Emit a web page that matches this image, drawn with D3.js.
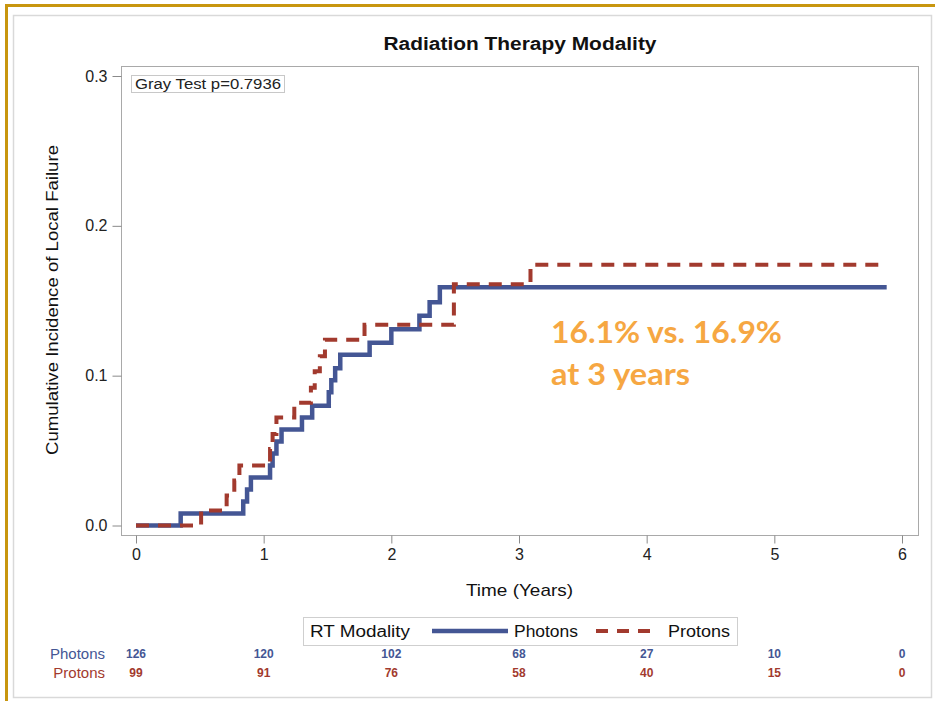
<!DOCTYPE html>
<html>
<head>
<meta charset="utf-8">
<script src="https://cdn.jsdelivr.net/npm/d3@7"></script>
<style>
  html, body { margin: 0; padding: 0; background: #fff; }
  svg { display: block; }
</style>
</head>
<body>
<svg id="chart" width="935" height="701"></svg>
<script>
// Cumulative incidence of local failure by RT modality (step functions)
const photonTimes  = [0, 0.35, 0.84, 0.87, 0.90, 1.05, 1.07, 1.10, 1.14, 1.30, 1.38, 1.51, 1.53, 1.56, 1.60, 1.83, 2.00, 2.22, 2.30, 2.38, 5.88];
const photonValues = [0, 0.008, 0.016, 0.024, 0.032, 0.040, 0.048, 0.056, 0.064, 0.072, 0.080, 0.089, 0.097, 0.105, 0.114, 0.122, 0.131, 0.140, 0.149, 0.159, 0.159];

const protonTimes  = [0, 0.51, 0.71, 0.77, 0.81, 1.05, 1.07, 1.10, 1.24, 1.37, 1.40, 1.44, 1.48, 1.79, 2.49, 3.09, 5.88];
const protonValues = [0, 0.010, 0.020, 0.030, 0.040, 0.051, 0.061, 0.072, 0.082, 0.092, 0.103, 0.113, 0.124, 0.134, 0.161, 0.174, 0.174];

// Axis ticks
const xTicks = [0, 1, 2, 3, 4, 5, 6];
const yTicks = [0, 0.1, 0.2, 0.3];

// Number at risk at each yearly tick
const atRiskPhotons = [126, 120, 102, 68, 27, 10, 0];
const atRiskProtons = [99, 91, 76, 58, 40, 15, 0];

const seriesNames = ["Photons", "Protons"];
const colors = { Photons: "#445694", Protons: "#a23a2e" };

const svg = d3.select("#chart");

// Outer decoration: gold rule on top/left and a light panel border
svg.append("rect").attr("x", 13.5).attr("y", 15.5).attr("width", 918).attr("height", 682)
  .attr("fill", "#fff").attr("stroke", "#d9d9d9").attr("stroke-width", 1.5);
svg.append("line").attr("x1", 6).attr("x2", 935).attr("y1", 5.5).attr("y2", 5.5)
  .attr("stroke", "#c8960f").attr("stroke-width", 3);
svg.append("line").attr("x1", 6.5).attr("x2", 6.5).attr("y1", 4).attr("y2", 701)
  .attr("stroke", "#c8960f").attr("stroke-width", 3);

const x = d3.scaleLinear().domain([0, 6]).range([136, 902]);
const y = d3.scaleLinear().domain([0, 0.3]).range([525.5, 76]);

const frame = { x0: 121, x1: 918, y0: 66, y1: 535 };

// Plot frame
svg.append("rect")
  .attr("x", frame.x0 + 0.5).attr("y", frame.y0 + 0.5)
  .attr("width", frame.x1 - frame.x0).attr("height", frame.y1 - frame.y0)
  .attr("fill", "#fff").attr("stroke", "#a9a9a9").attr("stroke-width", 1);

// Axes
const xAxis = d3.axisBottom(x).tickValues(xTicks).tickFormat(d3.format("d")).tickSize(8).tickPadding(5);
const yAxis = d3.axisLeft(y).tickValues(yTicks).tickFormat(d3.format(".1f")).tickSize(9).tickPadding(5);

const gx = svg.append("g").attr("transform", `translate(0,${frame.y1 + 0.5})`).call(xAxis);
const gy = svg.append("g").attr("transform", `translate(${frame.x0 + 0.5},0)`).call(yAxis);
[gx, gy].forEach(g => {
  g.select(".domain").remove();
  g.selectAll(".tick line").attr("stroke", "#8a8a8a");
  g.selectAll(".tick text").attr("fill", "#222").attr("font-family", "Liberation Sans, Arial, sans-serif").attr("font-size", 16);
});

// Step curves
const line = d3.line()
  .x(d => x(d[0]))
  .y(d => y(d[1]))
  .curve(d3.curveStepAfter);

svg.append("path")
  .datum(d3.zip(photonTimes, photonValues))
  .attr("d", line)
  .attr("fill", "none")
  .attr("stroke", colors.Photons)
  .attr("stroke-width", 4.5);

svg.append("path")
  .datum(d3.zip(protonTimes, protonValues))
  .attr("d", line)
  .attr("fill", "none")
  .attr("stroke", colors.Protons)
  .attr("stroke-width", 4)
  .attr("stroke-dasharray", "13,9");

// Title and axis labels
const sans = "Liberation Sans, Arial, sans-serif";
svg.append("text").attr("x", 520).attr("y", 50).attr("text-anchor", "middle")
  .attr("font-family", sans).attr("font-weight", "bold").attr("font-size", 18)
  .attr("textLength", 273).attr("lengthAdjust", "spacingAndGlyphs")
  .attr("fill", "#111").text("Radiation Therapy Modality");

svg.append("text").attr("x", 519.5).attr("y", 596).attr("text-anchor", "middle")
  .attr("font-family", sans).attr("font-size", 17)
  .attr("textLength", 107).attr("lengthAdjust", "spacingAndGlyphs")
  .attr("fill", "#111").text("Time (Years)");

svg.append("text")
  .attr("transform", "translate(58,300) rotate(-90)")
  .attr("text-anchor", "middle")
  .attr("font-family", sans).attr("font-size", 16)
  .attr("textLength", 310).attr("lengthAdjust", "spacingAndGlyphs")
  .attr("fill", "#111").text("Cumulative Incidence of Local Failure");

// Test statistic inset
svg.append("rect").attr("x", 131.5).attr("y", 75.5).attr("width", 153).attr("height", 17)
  .attr("fill", "#fff").attr("stroke", "#c8c8c8");
svg.append("text").attr("x", 135).attr("y", 89)
  .attr("font-family", sans).attr("font-size", 14)
  .attr("textLength", 146).attr("lengthAdjust", "spacingAndGlyphs")
  .attr("fill", "#222").text("Gray Test p=0.7936");

// Annotation
const note = svg.append("g").attr("font-family", "Lato, 'Open Sans', sans-serif")
  .attr("font-weight", "bold").attr("font-size", 30).attr("fill", "#f6a742");
note.append("text").attr("x", 551).attr("y", 343)
  .attr("textLength", 231).attr("lengthAdjust", "spacingAndGlyphs").text("16.1% vs. 16.9%");
note.append("text").attr("x", 551).attr("y", 385)
  .attr("textLength", 139).attr("lengthAdjust", "spacingAndGlyphs").text("at 3 years");

// Legend
const lg = svg.append("g");
lg.append("rect").attr("x", 303.5).attr("y", 617.5).attr("width", 434).attr("height", 28)
  .attr("fill", "#fff").attr("stroke", "#cfcfcf");
lg.append("text").attr("x", 310).attr("y", 637).attr("font-family", sans).attr("font-size", 16)
  .attr("textLength", 100).attr("lengthAdjust", "spacingAndGlyphs").attr("fill", "#111").text("RT Modality");
lg.append("line").attr("x1", 432).attr("x2", 508).attr("y1", 631).attr("y2", 631)
  .attr("stroke", colors.Photons).attr("stroke-width", 4.5);
lg.append("text").attr("x", 514).attr("y", 637).attr("font-family", sans).attr("font-size", 16)
  .attr("textLength", 64).attr("lengthAdjust", "spacingAndGlyphs").attr("fill", "#111").text(seriesNames[0]);
lg.append("line").attr("x1", 596).attr("x2", 650).attr("y1", 631).attr("y2", 631)
  .attr("stroke", colors.Protons).attr("stroke-width", 4).attr("stroke-dasharray", "12,9");
lg.append("text").attr("x", 668).attr("y", 637).attr("font-family", sans).attr("font-size", 16)
  .attr("textLength", 62).attr("lengthAdjust", "spacingAndGlyphs").attr("fill", "#111").text(seriesNames[1]);

// Number-at-risk table
const rows = [
  { name: seriesNames[0], counts: atRiskPhotons, yPos: 659 },
  { name: seriesNames[1], counts: atRiskProtons, yPos: 678 }
];
rows.forEach(r => {
  svg.append("text").attr("x", 105).attr("y", r.yPos).attr("text-anchor", "end")
    .attr("font-family", sans).attr("font-size", 15).attr("fill", colors[r.name]).text(r.name);
  svg.append("g").selectAll("text").data(r.counts).join("text")
    .attr("x", (d, i) => x(xTicks[i]))
    .attr("y", r.yPos - 1)
    .attr("text-anchor", "middle")
    .attr("font-family", sans).attr("font-weight", "bold").attr("font-size", 12)
    .attr("fill", colors[r.name])
    .text(d => d);
});
</script>
</body>
</html>
